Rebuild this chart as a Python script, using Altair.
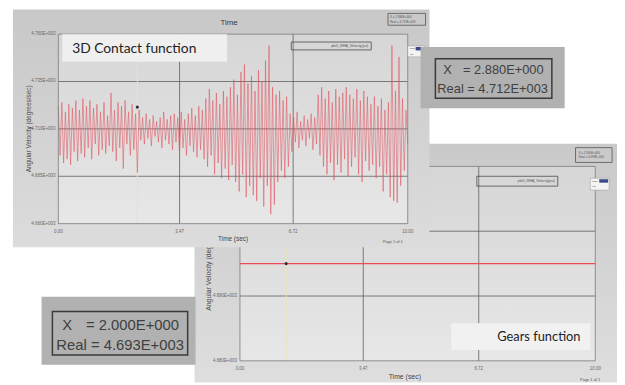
import altair as alt
import numpy as np
import pandas as pd

# ---------------- data ----------------
# Top panel: 3D contact function, angular velocity (E+003 deg/sec), alternating peaks / troughs
top_velocity = [
    4.722, 4.696, 4.724, 4.692, 4.719, 4.694, 4.723, 4.691, 4.721, 4.698,
    4.725, 4.693, 4.720, 4.697, 4.726, 4.695, 4.722, 4.700, 4.725, 4.694,
    4.721, 4.702, 4.723, 4.696, 4.719, 4.699, 4.724, 4.697, 4.717, 4.701,
    4.729, 4.698, 4.720, 4.693, 4.724, 4.700, 4.722, 4.689, 4.725, 4.702,
    4.719, 4.696, 4.723, 4.699, 4.718, 4.687, 4.720, 4.704, 4.716, 4.702,
    4.718, 4.705, 4.715, 4.701, 4.717, 4.706, 4.714, 4.703, 4.716, 4.700,
    4.719, 4.704, 4.715, 4.702, 4.717, 4.699, 4.718, 4.703, 4.716, 4.697,
    4.719, 4.700, 4.715, 4.696, 4.718, 4.701, 4.721, 4.698, 4.717, 4.695,
    4.722, 4.699, 4.720, 4.694, 4.726, 4.690, 4.731, 4.696, 4.725, 4.686,
    4.729, 4.692, 4.723, 4.684, 4.730, 4.689, 4.727, 4.683, 4.732, 4.691,
    4.736, 4.682, 4.728, 4.677, 4.740, 4.686, 4.744, 4.674, 4.734, 4.680,
    4.738, 4.675, 4.730, 4.672, 4.741, 4.684, 4.735, 4.669, 4.746, 4.680,
    4.754, 4.665, 4.732, 4.670, 4.728, 4.682, 4.730, 4.688, 4.725, 4.684,
    4.727, 4.690, 4.718, 4.698, 4.716, 4.703, 4.719, 4.700, 4.714, 4.704,
    4.717, 4.701, 4.715, 4.705, 4.718, 4.699, 4.716, 4.702, 4.728, 4.696,
    4.732, 4.690, 4.726, 4.686, 4.730, 4.692, 4.724, 4.683, 4.731, 4.691,
    4.727, 4.687, 4.729, 4.694, 4.732, 4.685, 4.728, 4.690, 4.726, 4.695,
    4.731, 4.686, 4.725, 4.682, 4.730, 4.693, 4.727, 4.688, 4.723, 4.691,
    4.727, 4.684, 4.722, 4.690, 4.726, 4.677, 4.720, 4.686, 4.724, 4.674,
    4.754, 4.672, 4.730, 4.671, 4.748, 4.680, 4.726, 4.688, 4.720, 4.702,
]
top_time = np.linspace(0.0, 10.0, len(top_velocity))

# Bottom panel: gears function, constant angular velocity
gear_time = [0.0, 10.0]
gear_velocity = [4.695, 4.695]

# axes
x_ticks = [0.0, 3.47, 6.72, 10.0]
top_y_ticks = [4.660, 4.685, 4.710, 4.735, 4.760]
gear_y_ticks = [4.680, 4.690, 4.700, 4.710]

# cursors
top_cursor = (2.26, 4.7215)
gear_cursor = (1.30, 4.695)

readout_top = ("= 2.880E+000", "Real = 4.712E+003")
readout_gear = ("= 2.000E+000", "Real = 4.693E+003")

# ---------------- helpers ----------------
OX, OY = 8, 8
W, H = 617, 377
FONT = "Liberation Sans"
one = pd.DataFrame({"k": [0]})


def grad(c1, c2):
    return alt.Gradient(
        gradient="linear",
        stops=[alt.GradientStop(color=c1, offset=0), alt.GradientStop(color=c2, offset=1)],
        x1=0, x2=0, y1=0, y2=1,
    )


def box(x1, y1, x2, y2, fill=None, stroke=None, sw=1.0):
    kw = {}
    if fill is not None:
        kw["fill"] = fill
    else:
        kw["fillOpacity"] = 0
        kw["fill"] = "#ffffff"
    if stroke is not None:
        kw["stroke"] = stroke
        kw["strokeWidth"] = sw
    return alt.Chart(one).mark_rect(**kw).encode(
        x=alt.value(x1 - OX), x2=alt.value(x2 - OX),
        y=alt.value(y1 - OY), y2=alt.value(y2 - OY),
    )


def txt(x, y, s, size, color="#444444", align="left", font=FONT, angle=0, baseline="middle"):
    kw = dict(fontSize=size, color=color, align=align, font=font, baseline=baseline)
    if angle:
        kw["angle"] = angle
    return alt.Chart(pd.DataFrame({"t": [s]})).mark_text(**kw).encode(
        x=alt.value(x - OX), y=alt.value(y - OY), text="t:N"
    )


def panel(px0, py0, px1, py1, xdom, ydom, yticks, xs, ys, cursor, line_color, line_width):
    xs_ = alt.Scale(domain=xdom, range=[px0 - OX, px1 - OX], nice=False, zero=False)
    ys_ = alt.Scale(domain=ydom, range=[py1 - OY, py0 - OY], nice=False, zero=False)
    layers = []
    layers.append(box(px0, py0, px1, py1, fill=grad("#d6d6d6", "#e7e7e7")))
    gy = pd.DataFrame({"v": yticks[1:-1]})
    layers.append(alt.Chart(gy).mark_rule(color="#5e5e5e", strokeWidth=0.8).encode(
        y=alt.Y("v:Q", scale=ys_, axis=None),
        x=alt.value(px0 - OX), x2=alt.value(px1 - OX)))
    gx = pd.DataFrame({"t": x_ticks[1:-1]})
    layers.append(alt.Chart(gx).mark_rule(color="#5e5e5e", strokeWidth=0.8).encode(
        x=alt.X("t:Q", scale=xs_, axis=None),
        y=alt.value(py0 - OY), y2=alt.value(py1 - OY)))
    cur = pd.DataFrame({"t": [cursor[0]], "v": [cursor[1]]})
    layers.append(alt.Chart(cur).mark_rule(color="#ece4b4", strokeWidth=1).encode(
        x=alt.X("t:Q", scale=xs_, axis=None),
        y=alt.value(py0 - OY), y2=alt.value(py1 - OY)))
    layers.append(alt.Chart(pd.DataFrame({"t": xs, "v": ys})).mark_line(
        stroke=line_color, color=line_color, strokeWidth=line_width).encode(
        x=alt.X("t:Q", scale=xs_, axis=None),
        y=alt.Y("v:Q", scale=ys_, axis=None)))
    layers.append(alt.Chart(cur).mark_point(filled=True, color="#2a2a40", size=10, opacity=1).encode(
        x=alt.X("t:Q", scale=xs_, axis=None),
        y=alt.Y("v:Q", scale=ys_, axis=None)))
    layers.append(box(px0, py0, px1, py1, stroke="#7a7a7a", sw=0.8))
    ylab = pd.DataFrame({"v": yticks, "s": [f"{v:.3f}E+003" for v in yticks]})
    layers.append(alt.Chart(ylab).mark_text(fontSize=4.5, color="#666666", align="right", font=FONT).encode(
        y=alt.Y("v:Q", scale=ys_, axis=None), x=alt.value(px0 - 3 - OX), text="s:N"))
    xlab = pd.DataFrame({"t": x_ticks, "s": [f"{t:.2f}" for t in x_ticks]})
    layers.append(alt.Chart(xlab).mark_text(fontSize=4.5, color="#666666", align="center", font=FONT).encode(
        x=alt.X("t:Q", scale=xs_, axis=None), y=alt.value(py1 + 8 - OY), text="s:N"))
    return layers


layers = []

# ---------------- bottom (gears) panel ----------------
layers.append(box(197, 143, 625, 385, fill=grad("#c9c9c9", "#dedede")))
layers += panel(243, 166, 603, 363, [0, 10], [4.680, 4.710], gear_y_ticks,
                gear_time, gear_velocity, gear_cursor, "#ee4a55", 1.4)
layers.append(txt(410, 379, "Time (sec)", 7, color="#444444", align="center"))
layers.append(txt(608, 382, "Page 1 of 1", 4, color="#555555", align="right"))
layers.append(txt(212, 265, "Angular Velocity (degrees/sec)", 7, color="#444444", align="center", angle=270))
layers.append(box(583, 147, 620, 162, stroke="#555555", sw=0.8))
layers.append(txt(586, 152, "X    = 2.000E+000", 3, color="#555555"))
layers.append(txt(586, 157, "Real = 4.693E+003", 3, color="#555555"))
layers.append(box(483, 176, 565, 186, stroke="#4a4a4a", sw=0.8))
layers.append(txt(562, 181, "pbt3_WHA_Velocity(psi)", 3.5, color="#555555", align="right"))
layers.append(box(598, 178, 617, 190, fill="#f4f4f4", stroke="#9a9a9a", sw=0.5))
layers.append(box(607, 179, 616, 182.5, fill="#3a4a8a"))
layers.append(txt(600, 180.5, "Time", 2.5, color="#333333"))
layers.append(txt(600, 186, "Val", 2.5, color="#333333"))

# ---------------- top (3D contact) panel ----------------
layers.append(box(13, 7, 435, 248, fill=grad("#c8c8c8", "#dcdcdc")))
layers += panel(59, 32, 413, 224, [0, 10], [4.660, 4.760], top_y_ticks,
                top_time, top_velocity, top_cursor, "#e2505c", 0.55)
layers.append(txt(232, 21, "Time", 8, color="#3a3a3a", align="center"))
layers.append(txt(236, 240, "Time (sec)", 6.5, color="#444444", align="center"))
layers.append(txt(408, 243, "Page 1 of 1", 4, color="#555555", align="right"))
layers.append(txt(29, 128, "Angular Velocity (degrees/sec)", 6.5, color="#444444", align="center", angle=270))
layers.append(box(393, 11, 431, 23, stroke="#555555", sw=0.8))
layers.append(txt(395, 14.5, "X    = 2.880E+000", 3, color="#555555"))
layers.append(txt(395, 19.5, "Real = 4.712E+003", 3, color="#555555"))
layers.append(box(295, 40, 376, 48, stroke="#4a4a4a", sw=0.8))
layers.append(txt(373, 44, "pbt3_WHA_Velocity(psi)", 3.5, color="#555555", align="right"))
layers.append(box(413, 44, 430, 55, fill="#f4f4f4", stroke="#9a9a9a", sw=0.5))
layers.append(box(421, 45, 429, 48.5, fill="#3a4a8a"))
layers.append(txt(415, 46.5, "Time", 2.5, color="#333333"))
layers.append(txt(415, 52, "Val", 2.5, color="#333333"))

# ---------------- annotation boxes ----------------
layers.append(box(63, 32, 230, 60, fill="#efefef"))
layers.append(txt(73, 47, "3D Contact function", 14, color="#222222", font="Lato"))
layers.append(box(457, 325, 598, 352, fill="#f1f1f1"))
layers.append(txt(588, 339, "Gears function", 13, color="#222222", font="Lato", align="right"))

# readout 1
layers.append(box(426, 45, 572, 107, fill="#b1b1b1"))
layers.append(box(441, 57, 559, 97, stroke="#3a3a3a", sw=1.5))
layers.append(txt(449, 68, "X", 13, color="#404040"))
layers.append(txt(469, 68, readout_top[0], 13, color="#404040"))
layers.append(txt(443, 88, readout_top[1], 13, color="#404040"))

# readout 2
layers.append(box(42, 298, 198, 367, fill="#b1b1b1"))
layers.append(box(53, 313, 190, 357, stroke="#3a3a3a", sw=1.5))
layers.append(txt(63, 327, "X", 15, color="#404040"))
layers.append(txt(87, 327, readout_gear[0], 15, color="#404040"))
layers.append(txt(57, 347, readout_gear[1], 15, color="#404040"))

chart = alt.layer(*layers).resolve_scale(x="independent", y="independent").properties(
    width=W, height=H, padding=0, autosize=alt.AutoSizeParams(type="none"), background="white"
).configure_view(stroke=None)

chart.save("out.html", embed_options={"renderer": "svg", "actions": False})
